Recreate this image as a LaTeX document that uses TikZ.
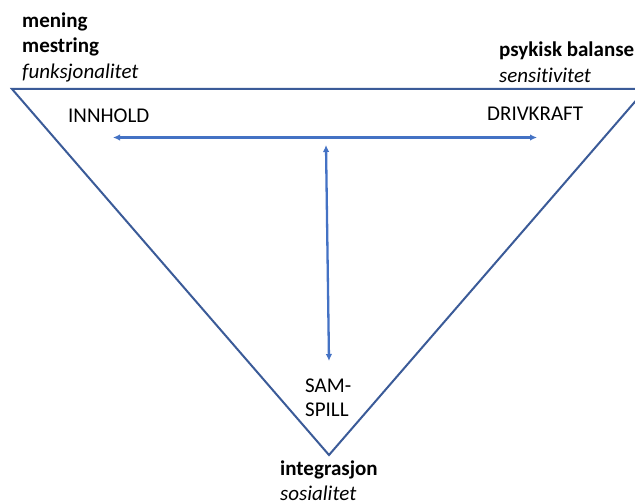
\documentclass[tikz,border=0pt]{standalone}
\usepackage{fontspec}
\setmainfont{Carlito}[Ligatures={NoCommon,NoContextual},RawFeature={-liga;-clig;-calt}]
\usetikzlibrary{arrows.meta}
\definecolor{triblue}{HTML}{3B5B98}
\definecolor{arrblue}{HTML}{4472C4}
\tikzset{
  lbl/.style={anchor=base west,inner sep=0pt,font=\fontsize{21}{26}\selectfont},
  bl/.style={lbl,font=\fontsize{21}{26}\selectfont\bfseries},
  it/.style={lbl,font=\fontsize{21}{26}\selectfont\itshape},
  tri/.style={draw=triblue,line width=2pt,line join=miter},
  arr/.style={draw=arrblue,line width=2.3pt,{Latex[length=7pt,width=6.5pt]}-{Latex[length=7pt,width=6.5pt]}}
}
\begin{document}
\begin{tikzpicture}[x=1pt,y=-1pt]
\clip (0,0) rectangle (635,503);
\useasboundingbox (0,0) rectangle (635,503);
\coordinate (tl) at (12,89);
\coordinate (tr) at (646,89);
\coordinate (bt) at (329,455);
\draw[tri] (tl) -- (tr) -- (bt) -- cycle;
\coordinate (hl) at (113,137.5);
\coordinate (hr) at (537,137.5);
\coordinate (vt) at (326,145);
\coordinate (vb) at (329,361);
\draw[arr] (hl) -- (hr);
\draw[arr] (vt) -- (vb);
\node[bl] (mening) at (22,28) {mening};
\node[bl] (mestring) at (22,53) {mestring};
\node[it] (funk) at (22,78) {funksjonalitet};
\node[bl] (psyk) at (499,57) {psykisk balanse};
\node[it] (sens) at (499,83) {sensitivitet};
\node[lbl] (innhold) at (68,122) {INNHOLD};
\node[lbl] (drivkraft) at (487,121) {DRIVKRAFT};
\node[lbl] (sam) at (305,392) {SAM-};
\node[lbl] (spill) at (305,416) {SPILL};
\node[bl] (integ) at (280,475) {integrasjon};
\node[it] (sosial) at (280,500) {sosialitet};
\end{tikzpicture}
\end{document}
